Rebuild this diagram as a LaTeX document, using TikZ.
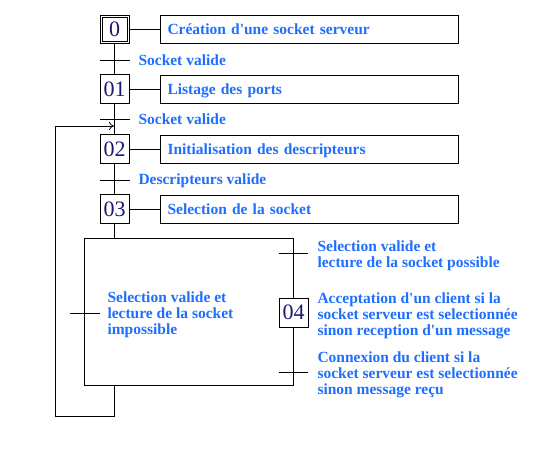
\documentclass[tikz,border=0pt]{standalone}
\usepackage{fontspec}
\setmainfont{Liberation Serif}
\usetikzlibrary{arrows.meta}
\definecolor{txtblue}{RGB}{30,110,255}
\definecolor{numblue}{RGB}{25,25,112}
\newcommand{\qs}{\textquotesingle}
\begin{document}
\begin{tikzpicture}[x=1pt,y=-1pt,line width=1pt,
  stepbox/.style={draw,fill=white,minimum width=29pt,minimum height=29pt,inner sep=0pt,
    font=\fontsize{22}{22}\selectfont,text=numblue},
  actbox/.style={draw,minimum height=28pt,text width=284pt,inner xsep=7pt,inner ysep=0pt,
    text height=14.5pt,text depth=4pt,
    align=left,font=\fontsize{15.5}{16}\selectfont\bfseries,text=txtblue},
  lbl/.style={font=\fontsize{15.5}{16}\selectfont\bfseries,text=txtblue,anchor=west,
    inner sep=0pt,align=left},
]
\useasboundingbox (0,0) rectangle (550,450);
% steps
\node[stepbox,double,double distance=1pt,minimum width=27pt,minimum height=26pt] (s0) at (114.5,29.5) {0};
\node[stepbox] (s1) at (114.5,89) {01};
\node[stepbox] (s2) at (114.5,149) {02};
\node[stepbox] (s3) at (114.5,209) {03};
% actions
\node[actbox] (a0) at (309.5,29.5) {Création d\qs une socket serveur};
\node[actbox] (a1) at (309.5,89) {Listage des ports};
\node[actbox] (a2) at (309.5,149) {Initialisation des descripteurs};
\node[actbox] (a3) at (309.5,209) {Selection de la socket};
\draw (s0) -- (a0);
\draw (s1) -- (a1);
\draw (s2) -- (a2);
\draw (s3) -- (a3);
% main chain
\draw (s0.south) -- (s1.north);
\draw (s1.south) -- (s2.north);
\draw (s2.south) -- (s3.north);
% transitions
\coordinate (t1) at (114.5,60);
\coordinate (t2) at (114.5,119);
\coordinate (t3) at (114.5,180);
\foreach \t in {t1,t2,t3}{\draw ([xshift=-15pt]\t) -- ([xshift=15pt]\t);}
\node[lbl] (l1) at (138,60.5) {Socket valide};
\node[lbl] (l2) at (138,119.5) {Socket valide};
\node[lbl] (l3) at (138,180.5) {Descripteurs valide};
% big rectangle
\node[draw,minimum width=209pt,minimum height=147pt,inner sep=0pt] (big) at (189,312) {};
\draw (s3.south) -- (big.north -| s3);
\node[stepbox] (s4) at (293.5,312.5) {04};
\coordinate (t4) at (293.5,253);
\coordinate (t5) at (293.5,372);
\coordinate (t6) at (84.5,313);
\draw ([xshift=-14.5pt]t4) -- ([xshift=14.5pt]t4);
\draw ([xshift=-14.5pt]t5) -- ([xshift=14.5pt]t5);
\draw ([xshift=-15pt]t6) -- ([xshift=15pt]t6);
\node[lbl] (l4) at (317,255.5) {Selection valide et\\lecture de la socket possible};
\node[lbl] (l5) at (317,316) {Acceptation d\qs un client si la\\socket serveur est selectionnée\\sinon reception d\qs un message};
\node[lbl] (l6) at (317,375) {Connexion du client si la\\socket serveur est selectionnée\\sinon message reçu};
\node[lbl] (l7) at (107,315) {Selection valide et\\lecture de la socket\\impossible};
% loop back
\coordinate (lp1) at (114.5,416.5);
\coordinate (lp2) at (55.5,416.5);
\coordinate (lp3) at (55.5,126);
\coordinate (lp4) at (114,126);
\draw (big.south -| s3) -- (lp1) -- (lp2) -- (lp3);
\draw[-{To[length=5pt,width=8pt]},line width=0.8pt] (lp3) -- (lp4);
\end{tikzpicture}
\end{document}
